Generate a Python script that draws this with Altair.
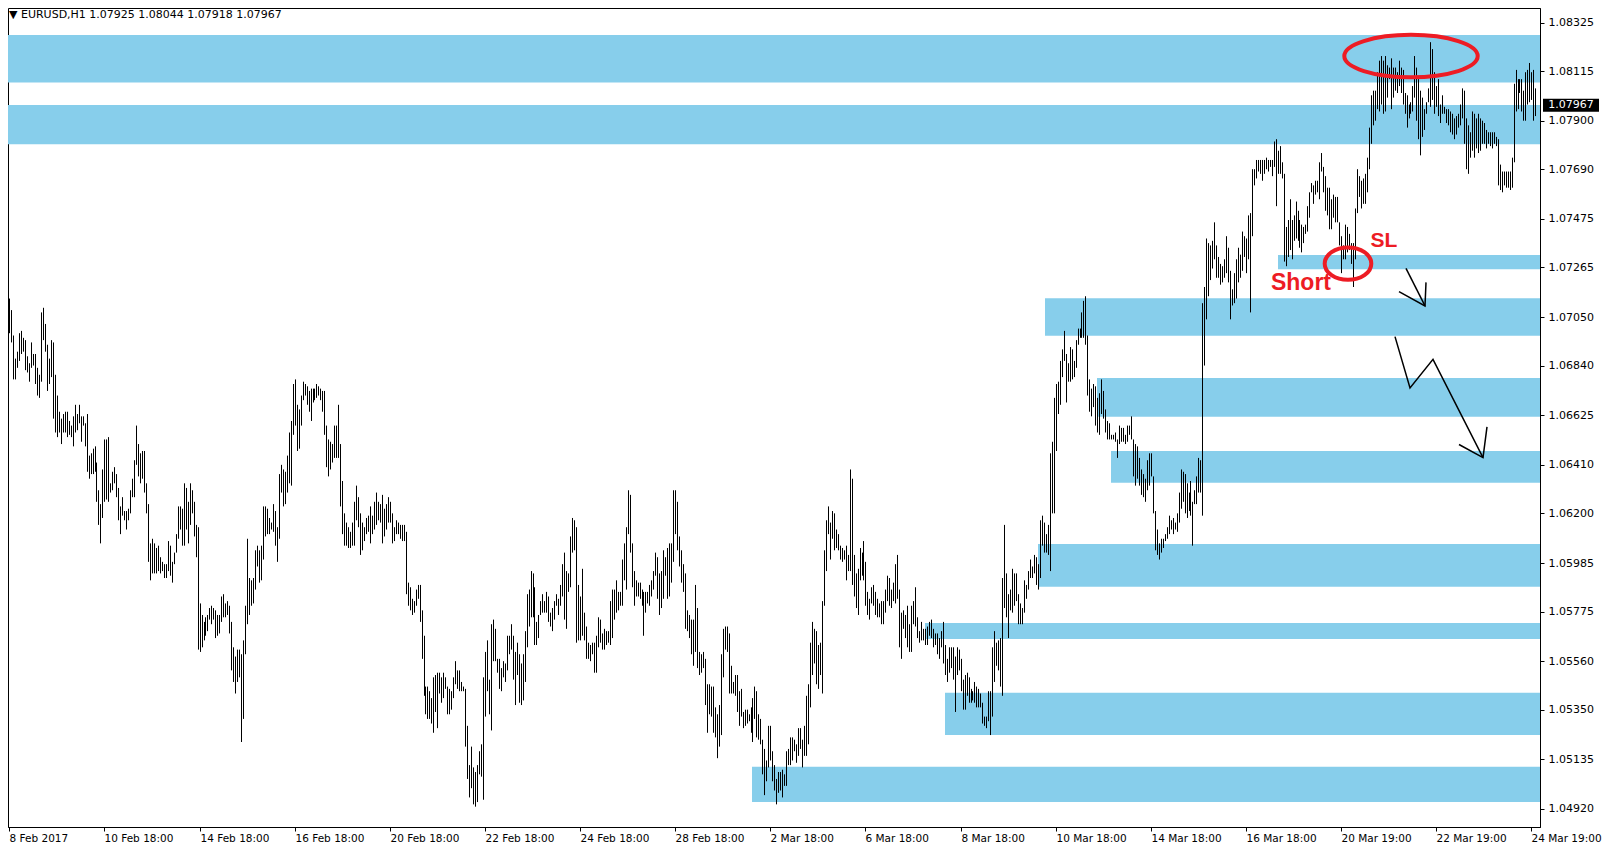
import altair as alt
import pandas as pd

# ---------------- data (hourly bars, prices in pips: 10713 -> 1.0713) ----------------
h1 = [10713,10708,10697,10687,10690,10698,10699,10696,10695,10688,
      10685,10694,10689,10689,10683,10680,10707,10709,10702,10693,
      10687,10695,10694,10680,10671,10664,10661,10663,10664,10664,
      10660,10658,10662,10667,10663,10667,10662,10662,10659,10663,
      10645,10646,10648,10649,10642,10630,10624,10639,10652,10652,
      10653,10633,10638,10640,10637,10631,10623,10627,10621,10621,
      10622,10630,10635,10643,10658,10650,10646,10647,10647,10633,
      10624,10607,10609,10607,10605,10606,10601,10599,10598,10598,
      10608,10606,10599,10603,10611,10623,10623,10622,10633,10631,
      10625,10633,10630,10625,10615,10614,10581,10576,10573,10575,
      10576,10579,10580,10579,10578,10576,10576,10584,10585,10581,10582]
l1 = [10698,10694,10678,10678,10683,10686,10689,10690,10682,10681,
      10677,10683,10684,10676,10671,10670,10677,10695,10690,10673,
      10676,10679,10661,10655,10653,10655,10650,10655,10655,10653,
      10654,10653,10649,10655,10656,10659,10651,10658,10649,10638,
      10635,10637,10637,10638,10625,10615,10607,10618,10625,10626,
      10625,10629,10630,10633,10627,10617,10611,10619,10617,10613,
      10617,10620,10627,10627,10641,10636,10633,10635,10629,10620,
      10599,10591,10594,10594,10594,10595,10594,10595,10592,10592,
      10595,10593,10590,10598,10603,10609,10613,10606,10606,10613,
      10607,10615,10620,10610,10601,10561,10560,10562,10565,10567,
      10569,10574,10572,10574,10566,10567,10568,10573,10575,10575,10576]

h2 = [10580,10573,10562,10558,10561,10561,10559,10565,10580,10609,
      10592,10591,10592,10604,10606,10604,10606,10623,10623,10622,
      10618,10616,10624,10621,10614,10637,10641,10639,10638,10645,
      10655,10660,10676,10678,10667,10665,10671,10677,10676,10675,
      10673,10674,10674,10674,10676,10675,10674,10673,10673,10658,
      10652,10651,10650,10658,10658,10667,10650,10634,10620,10616,
      10614,10612,10616,10625,10632,10627,10620,10616,10614,10618,
      10619,10623,10619,10625,10629,10625,10624,10628,10622,10624,
      10627,10625,10620,10614,10617,10616,10615,10615,10615,10612,
      10590,10588,10583,10582,10587,10589,10589,10578,10567,10545,
      10545,10543,10540,10549,10550,10551,10551,10549,10551,10549]
l2 = [10568,10552,10547,10542,10547,10549,10521,10531,10559,10572,
      10576,10580,10581,10587,10597,10590,10591,10600,10610,10611,
      10611,10613,10612,10606,10599,10609,10629,10623,10624,10629,
      10633,10632,10654,10658,10647,10648,10658,10669,10671,10667,
      10664,10660,10668,10669,10670,10671,10669,10664,10654,10640,
      10636,10639,10642,10644,10644,10644,10623,10611,10606,10606,
      10605,10605,10606,10606,10617,10614,10602,10604,10608,10611,
      10612,10607,10611,10613,10615,10617,10616,10607,10610,10613,
      10616,10616,10607,10608,10611,10611,10609,10608,10608,10585,
      10580,10578,10576,10577,10580,10583,10573,10557,10541,10533,
      10531,10531,10529,10525,10534,10527,10542,10538,10540,10544]

h3 = [10545,10544,10543,10549,10556,10552,10552,10547,10545,10544,
      10528,10511,10519,10510,10508,10511,10517,10520,10549,10560,
      10565,10548,10572,10574,10570,10557,10557,10553,10556,10555,
      10567,10567,10572,10567,10560,10564,10559,10555,10559,10569,
      10585,10587,10595,10594,10588,10573,10576,10582,10585,10582,
      10586,10584,10577,10579,10582,10585,10583,10589,10598,10603,
      10595,10594,10610,10618,10617,10614,10589,10584,10596,10577,
      10571,10564,10563,10564,10564,10567,10575,10574,10568,10570,
      10569,10569,10582,10587,10587,10591,10586,10586,10600,10607,
      10614,10630,10628,10607,10595,10591,10590,10590,10587,10586,
      10586,10586,10589,10591,10595,10603,10601,10594,10595,10604,
      10601,10605,10607]
l3 = [10533,10533,10535,10540,10546,10544,10543,10543,10543,10519,
      10505,10497,10501,10494,10493,10495,10507,10506,10496,10532,
      10543,10533,10526,10556,10556,10551,10544,10543,10549,10547,
      10552,10559,10561,10548,10537,10550,10538,10537,10539,10547,
      10562,10571,10575,10575,10563,10563,10566,10576,10577,10577,
      10577,10573,10571,10569,10574,10580,10576,10580,10584,10574,
      10570,10586,10588,10603,10604,10564,10565,10565,10567,10565,
      10557,10557,10556,10559,10551,10551,10562,10564,10561,10561,
      10563,10564,10563,10566,10574,10577,10578,10580,10580,10591,
      10587,10611,10603,10588,10580,10584,10584,10583,10580,10567,
      10577,10581,10580,10584,10587,10593,10583,10576,10579,10583,
      10593,10583,10584]

h4 = [10607,10630,10630,10625,10610,10604,10598,10594,10578,10576,
      10574,10574,10589,10579,10560,10559,10560,10557,10546,10546,
      10545,10545,10536,10533,10537,10559,10570,10571,10571,10568,
      10554,10547,10550,10550,10543,10544,10534,10535,10535,10533,
      10536,10540,10545,10543,10533,10531,10522,10518,10513,10528,
      10528,10517,10511,10505,10508,10508,10509,10507,10517,10518,
      10523,10523,10522,10520,10527,10527,10522,10528,10541,10546,
      10564,10573,10570,10569,10563,10564,10582,10604,10617,10623,
      10616,10621,10620,10613,10611,10606,10605,10604,10606,10602,
      10639,10635,10602,10594,10596,10605,10603,10608,10599,10586,
      10583,10588,10589,10586,10583,10581,10582,10582,10587,10593,
      10592,10587]
l4 = [10590,10599,10611,10604,10597,10590,10586,10570,10569,10566,
      10559,10554,10560,10553,10550,10551,10553,10537,10525,10533,
      10532,10525,10523,10514,10519,10524,10549,10561,10560,10542,
      10542,10542,10541,10534,10528,10532,10527,10528,10529,10530,
      10525,10521,10531,10523,10522,10520,10507,10498,10504,10510,
      10513,10504,10500,10494,10499,10500,10497,10502,10502,10511,
      10511,10513,10517,10512,10515,10518,10510,10515,10515,10520,
      10536,10550,10555,10546,10544,10550,10542,10580,10595,10611,
      10600,10609,10604,10605,10604,10600,10599,10600,10591,10595,
      10595,10589,10584,10579,10576,10591,10593,10591,10580,10576,
      10574,10581,10580,10576,10575,10575,10572,10572,10577,10582,
      10580,10579]

h5 = [10590,10598,10602,10587,10577,10578,10576,10580,10572,10580,
      10582,10588,10575,10569,10573,10570,10570,10571,10573,10574,
      10570,10568,10568,10566,10569,10573,10563,10557,10562,10562,
      10562,10558,10562,10561,10557,10548,10550,10551,10549,10544,
      10543,10547,10545,10544,10542,10538,10532,10532,10543,10543,
      10562,10569,10564,10565,10566,10592,10615,10594,10585,10587,
      10596,10594,10594,10585,10581,10579,10591,10589,10595,10600,
      10597,10602,10601,10598,10617,10619,10616,10611,10615,10646,
      10651,10670,10676,10677,10686,10691,10699,10689,10685,10692,
      10691,10686,10695,10700,10700,10707,10712,10714,10697,10678,
      10674,10676,10675,10670,10672,10678,10673,10665,10660,10659,
      10654,10654,10655]
l5 = [10582,10581,10583,10562,10557,10570,10566,10562,10560,10560,
      10572,10571,10566,10564,10565,10565,10563,10563,10567,10566,
      10562,10563,10559,10557,10562,10555,10550,10547,10551,10553,
      10548,10534,10550,10552,10543,10535,10535,10541,10538,10538,
      10539,10538,10536,10536,10536,10529,10528,10527,10530,10524,
      10532,10547,10554,10552,10545,10541,10579,10575,10566,10578,
      10577,10580,10582,10572,10572,10572,10577,10583,10587,10592,
      10592,10594,10589,10587,10592,10606,10603,10603,10602,10595,
      10620,10620,10647,10663,10667,10679,10686,10668,10677,10677,
      10678,10679,10683,10693,10696,10696,10696,10693,10671,10664,
      10662,10666,10658,10655,10654,10663,10661,10655,10652,10652,
      10652,10652,10651]

h6 = [10652,10658,10657,10657,10654,10658,10658,10662,10652,10650,
      10649,10644,10639,10637,10635,10643,10646,10646,10636,10621,
      10613,10607,10609,10609,10611,10614,10619,10617,10618,10616,
      10620,10629,10639,10638,10637,10633,10629,10634,10625,10630,
      10636,10644,10643,10711,10718,10739,10737,10736,10738,10746,
      10736,10731,10728,10727,10730,10740,10735,10725,10717,10724,
      10730,10735,10732,10742,10740,10739,10749,10750,10769,10769,
      10773,10773,10773,10773,10773,10774,10773,10773,10773,10781,
      10782,10777,10779,10772,10767,10744,10747,10756,10747,10749,
      10755,10751,10747,10745,10744,10745,10753,10759,10763,10762,
      10764,10764,10772,10776,10770,10766,10761,10761,10756,10758,
      10757,10757]
l6 = [10644,10650,10651,10651,10650,10651,10654,10652,10636,10632,
      10635,10632,10628,10627,10625,10630,10632,10636,10620,10604,
      10602,10600,10603,10605,10608,10609,10611,10613,10611,10613,
      10612,10616,10622,10625,10620,10618,10621,10619,10606,10624,
      10624,10629,10629,10619,10684,10704,10714,10721,10726,10730,
      10722,10722,10719,10720,10722,10724,10720,10704,10710,10711,
      10713,10720,10722,10725,10731,10724,10730,10707,10740,10762,
      10765,10768,10767,10764,10767,10769,10768,10770,10766,10770,
      10753,10767,10767,10765,10729,10727,10731,10734,10730,10738,
      10739,10738,10735,10733,10737,10741,10742,10748,10759,10754,
      10758,10759,10756,10768,10759,10751,10749,10743,10743,10748,
      10746,10746]

h7 = [10746,10740,10736,10745,10744,10741,10737,10737,10752,10769,
      10766,10764,10765,10767,10774,10787,10801,10803,10803,10811,
      10816,10818,10816,10818,10814,10813,10817,10813,10813,10811,
      10816,10813,10812,10802,10801,10797,10798,10805,10818,10813,
      10808,10803,10800,10795,10798,10804,10824,10821,10811,10805,
      10808,10797,10801,10796,10795,10795,10794,10793,10791,10792,
      10793,10797,10804,10803,10791,10788,10785,10794,10793,10791,
      10793,10791,10790,10789,10786,10785,10785,10785,10785,10783,
      10782,10771,10768,10768,10768,10768,10768,10774,10806,10812,
      10808,10808,10808,10803,10811,10812,10815,10811,10812,10804]
l7 = [10736,10724,10730,10730,10733,10734,10728,10718,10730,10750,
      10757,10752,10754,10754,10759,10769,10780,10788,10790,10795,
      10794,10797,10793,10794,10800,10808,10795,10800,10803,10802,
      10805,10802,10797,10793,10787,10791,10793,10794,10800,10790,
      10782,10775,10783,10786,10793,10798,10796,10799,10793,10796,
      10792,10789,10793,10793,10789,10788,10785,10784,10782,10784,
      10787,10788,10791,10780,10769,10767,10774,10777,10774,10778,
      10776,10777,10780,10780,10778,10780,10779,10778,10780,10779,
      10762,10760,10759,10762,10761,10761,10760,10761,10772,10794,
      10795,10802,10794,10790,10790,10797,10798,10799,10790,10792]

# support / resistance zones (start bar index, top price, bottom price)
zone_start = [-0.65, -0.65, 640.0, 522.4, 548.9, 555.9, 518.9, 461.9, 471.9, 374.9]
zone_top = [1.08271, 1.07968, 1.07319, 1.07131, 1.06786, 1.06470, 1.06067, 1.05725, 1.05423, 1.05103]
zone_bottom = [1.08065, 1.07798, 1.07257, 1.06969, 1.06618, 1.06333, 1.05882, 1.05656, 1.05240, 1.04950]

# axis labels
x_tick_idx = [0, 48, 96, 144, 192, 240, 288, 336, 384, 432, 480, 528, 576, 624, 672, 720, 768]
x_tick_labels = ["8 Feb 2017", "10 Feb 18:00", "14 Feb 18:00", "16 Feb 18:00", "20 Feb 18:00",
                 "22 Feb 18:00", "24 Feb 18:00", "28 Feb 18:00", "2 Mar 18:00", "6 Mar 18:00",
                 "8 Mar 18:00", "10 Mar 18:00", "14 Mar 18:00", "16 Mar 18:00", "20 Mar 19:00",
                 "22 Mar 19:00", "24 Mar 19:00"]
y_tick_labels = ["1.08325", "1.08115", "1.07900", "1.07690", "1.07475", "1.07265", "1.07050",
                 "1.06840", "1.06625", "1.06410", "1.06200", "1.05985", "1.05775", "1.05560",
                 "1.05350", "1.05135", "1.04920"]

header = "\u25BC EURUSD,H1  1.07925 1.08044 1.07918 1.07967"
last_close = 1.07967

# annotations
arrow_seg = [0, 0, 1, 1, 1, 2, 2, 2, 2, 3, 3, 3]
arrow_i = [704.5, 714.2, 701.2, 714.2, 714.7, 699.2, 706.9, 718.2, 743.8, 731.5, 743.8, 745.4]
arrow_p = [1.07261, 1.07098, 1.07160, 1.07098, 1.07200, 1.06965, 1.06743, 1.06867, 1.06441,
           1.06498, 1.06441, 1.06574]
label_text = ["SL", "Short"]
label_i = [693.4, 651.6]
label_p = [1.07381, 1.07198]
label_fs = [21, 23]
ellipse_big = (707.5, 1.08180)
ellipse_small = (675.4, 1.07281)

# ---------------- chart ----------------
W, H = 1532, 819
X_MIN, X_MAX = -0.65, 772.35
Y_MIN, Y_MAX = 1.04842, 1.08388
RED = "#ed1c24"
FONT = "DejaVu Sans"

highs = h1 + h2 + h3 + h4 + h5 + h6 + h7
lows = l1 + l2 + l3 + l4 + l5 + l6 + l7
n = min(len(highs), len(lows))
bars_df = pd.DataFrame({"i": list(range(n)),
                        "high": [v / 10000 for v in highs[:n]],
                        "low": [v / 10000 for v in lows[:n]]})
zones_df = pd.DataFrame({"i": zone_start, "top": zone_top, "bottom": zone_bottom})
arrows_df = pd.DataFrame({"seg": arrow_seg, "i": arrow_i, "p": arrow_p,
                          "ord": list(range(len(arrow_i)))})
labels_df = pd.DataFrame({"t": label_text, "i": label_i, "p": label_p, "fs": label_fs})

x_scale = alt.Scale(domain=[X_MIN, X_MAX], nice=False, zero=False, round=True)
y_scale = alt.Scale(domain=[Y_MIN, Y_MAX], nice=False, zero=False)

x_label_expr = "[" + ",".join("'" + s + "'" for s in x_tick_labels) + "][round(datum.value/48)]"
x_axis = alt.Axis(values=x_tick_idx, labelExpr=x_label_expr, title=None, grid=False,
                  tickSize=4, labelPadding=2, labelAlign="left", labelFont=FONT,
                  labelFontSize=10.5, labelColor="black", domainColor="black",
                  tickColor="black", labelOverlap=False, labelBound=False, labelFlush=False)
y_axis = alt.Axis(orient="right", values=[float(s) for s in y_tick_labels], format=".5f",
                  title=None, grid=False, tickSize=4, labelPadding=4, labelFont=FONT,
                  labelFontSize=11, labelColor="black", domainColor="black",
                  tickColor="black", labelOverlap=False, labelBound=False)

X = lambda f: alt.X(f, type="quantitative", scale=x_scale, axis=x_axis)
Y = lambda f: alt.Y(f, type="quantitative", scale=y_scale, axis=y_axis)

zones = alt.Chart(zones_df).mark_rect(color="#87ceeb").encode(
    x=X("i"), x2=alt.value(W), y=Y("top"), y2="bottom")

bars = alt.Chart(bars_df).mark_rule(color="black", strokeWidth=1, xOffset=0.5).encode(
    x=X("i"), y=Y("low"), y2="high")

arrows = alt.Chart(arrows_df).mark_line(color="black", strokeWidth=1.5).encode(
    x=X("i"), y=Y("p"), detail="seg:N", order="ord:Q")

def ellipse_path(ratio):
    return f"M -1 0 A 1 {ratio} 0 1 0 1 0 A 1 {ratio} 0 1 0 -1 0 Z"

big_df = pd.DataFrame({"i": [ellipse_big[0]], "p": [ellipse_big[1]]})
small_df = pd.DataFrame({"i": [ellipse_small[0]], "p": [ellipse_small[1]]})
ell_big = alt.Chart(big_df).mark_point(shape=ellipse_path(0.318), size=133.4 ** 2, filled=False,
                                       stroke=RED, strokeWidth=4, opacity=1).encode(
    x=X("i"), y=Y("p"))
ell_small = alt.Chart(small_df).mark_point(shape=ellipse_path(0.695), size=46.6 ** 2, filled=False,
                                           stroke=RED, strokeWidth=4, opacity=1).encode(
    x=X("i"), y=Y("p"))

labels = alt.Chart(labels_df).mark_text(color=RED, font="Liberation Sans", fontWeight="bold",
                                        align="center", baseline="middle").encode(
    x=X("i"), y=Y("p"), text="t:N", size=alt.Size("fs:Q", scale=None, legend=None))

head = alt.Chart(pd.DataFrame({"t": [header]})).mark_text(
    align="left", baseline="middle", font=FONT, fontSize=11, color="black").encode(
    x=alt.value(1), y=alt.value(6.5), text="t:N")

tag_df = pd.DataFrame({"p": [last_close], "t": [f"{last_close:.5f}"]})
tag_box = alt.Chart(tag_df).mark_point(
    shape="M -1 -0.232 L 1 -0.232 L 1 0.232 L -1 0.232 Z", size=56 ** 2,
    filled=True, fill="black", stroke=None, opacity=1).encode(
    x=alt.value(W + 31), y=Y("p"))
tag_text = alt.Chart(tag_df).mark_text(align="center", baseline="middle", font=FONT,
                                       fontSize=11, color="white").encode(
    x=alt.value(W + 31), y=Y("p"), text="t:N")

chart = alt.layer(zones, bars, arrows, ell_big, ell_small, labels, head, tag_box, tag_text).properties(
    width=W, height=H, padding={"left": 0, "top": 0, "right": 0, "bottom": 0},
    background="white"
).configure_view(stroke="black", strokeWidth=1)

chart.save("out.html", embed_options={"renderer": "svg", "actions": False})
